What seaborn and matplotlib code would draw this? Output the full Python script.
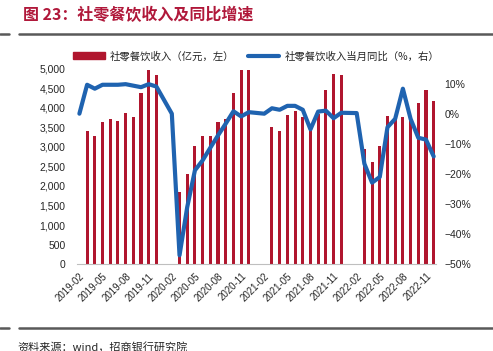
import numpy as np
import pandas as pd
import matplotlib
matplotlib.use("Agg")
import matplotlib.pyplot as plt
import seaborn as sns
from matplotlib.patches import Patch
from matplotlib.lines import Line2D

nan = np.nan
months = [d.strftime("%Y-%m") for d in pd.date_range("2019-02-01", "2022-12-01", freq="MS")]

# 社零餐饮收入（亿元） — Jan/Feb not shown
revenue_2019 = [nan, 3395, 3285, 3643, 3720, 3669, 3866, 3771, 4378, 4966, 4838]
revenue_2020 = [nan, nan, 1843, 2312, 3021, 3267, 3285, 3625, 3720, 4378, 4974, 4949]
revenue_2021 = [nan, nan, 3515, 3395, 3810, 3917, 3753, 3460, 3830, 4462, 4854, 4838]
revenue_2022 = [nan, nan, 2944, 2619, 3029, 3779, 3728, 3763, 3694, 4122, 4444, 4163]

# 社零餐饮收入当月同比（%）
yoy_2019 = [0.0, 9.6, 8.3, 9.6, 9.6, 9.6, 9.8, 9.3, 8.8, 9.8, 9.0]
yoy_2020 = [nan, 0.0, -47.0, -31.0, -18.8, -15.5, -11.3, -7.2, -3.3, 0.8, -0.9, 0.5]
yoy_2021 = [nan, 0.0, 1.8, 1.3, 2.6, 2.6, 1.3, -5.2, 0.7, 1.0, -1.5, 0.3]
yoy_2022 = [nan, 0.2, -16.6, -22.9, -21.0, -4.5, -1.7, 8.3, -1.7, -8.0, -8.6, -14.2]

revenue = revenue_2019 + revenue_2020 + revenue_2021 + revenue_2022
yoy = yoy_2019 + yoy_2020 + yoy_2021 + yoy_2022

left_ticks = list(range(0, 5001, 500))
right_ticks = list(range(-50, 11, 10))
xtick_labels = months[::3]

RED = "#B0162E"
BLUE = "#1F63B0"
CJK = ["Noto Sans CJK SC", "DejaVu Sans"]

sns.set_theme(style="white")
plt.rcParams["font.family"] = ["Liberation Sans", "DejaVu Sans"]

fig = plt.figure(figsize=(4.93, 3.51), dpi=100)
ax = fig.add_axes([76.7 / 493, 1 - 264.3 / 351, (436 - 76.7) / 493, (264.3 - 68.5) / 351])

df = pd.DataFrame({"month": months, "revenue": revenue, "yoy": yoy})
df["pos"] = np.arange(len(months))

sns.barplot(data=df, x="month", y="revenue", order=months, color=RED,
            saturation=1, width=0.4, ax=ax, errorbar=None, linewidth=0)

ax2 = ax.twinx()
dl = df.dropna(subset=["yoy"])
sns.lineplot(data=dl, x="pos", y="yoy", color=BLUE, lw=3.0, ax=ax2, sort=True)

ax.set_xlim(-0.35, 46.3)
ax.set_ylim(0, 5000)
ax2.set_ylim(-50, 15)

ax.set_yticks(left_ticks)
ax.set_yticklabels([f"{v:,}" for v in left_ticks])
ax2.set_yticks(right_ticks)
ax2.set_yticklabels([f"{v}%".replace("-", "\u2212") for v in right_ticks])
ax.set_xticks(range(0, len(months), 3))
ax.set_xticklabels(xtick_labels, rotation=45, ha="right", rotation_mode="anchor")

for a in (ax, ax2):
    a.set_xlabel("")
    a.set_ylabel("")
    a.tick_params(length=0, labelsize=7.5, colors="#262626")
    for s in a.spines.values():
        s.set_visible(False)
ax.tick_params(axis="x", pad=5, labelsize=7)
ax.tick_params(axis="y", pad=8)
ax2.tick_params(axis="y", pad=6)
ax.spines["bottom"].set_visible(True)
ax.spines["bottom"].set_color("#BFBFBF")
ax.spines["bottom"].set_linewidth(0.8)
ax.grid(False)
ax2.grid(False)

handles = [Patch(facecolor=RED, edgecolor=RED), Line2D([], [], color=BLUE, lw=3.0)]
labels = ["社零餐饮收入（亿元，左）", "社零餐饮收入当月同比（%，右）"]
ax2.legend(handles, labels, loc="lower center", bbox_to_anchor=(0.5, 1.0), ncol=2,
           frameon=False, prop={"family": CJK, "size": 7.5}, handlelength=3.0,
           handleheight=0.6, columnspacing=1.3, handletextpad=0.5, borderaxespad=0.3)

fig.text(23 / 493, 1 - 15 / 351, "图 23：社零餐饮收入及同比增速", color="#B0183A",
         fontsize=11.5, fontweight="bold", family=CJK, va="center", ha="left")

for yy in (33.5, 328.3):
    yf = 1 - yy / 351
    fig.add_artist(Line2D([0, 9.3 / 493], [yf, yf], color="#595959", lw=1.8,
                          transform=fig.transFigure))
    fig.add_artist(Line2D([19 / 493, 1], [yf, yf], color="#595959", lw=1.8,
                          transform=fig.transFigure))

fig.text(17 / 493, 1 - 347 / 351, "资料来源：wind，招商银行研究院", fontsize=8,
         family=CJK, va="center", ha="left", color="#262626")

fig.savefig("out.png", dpi=100)
